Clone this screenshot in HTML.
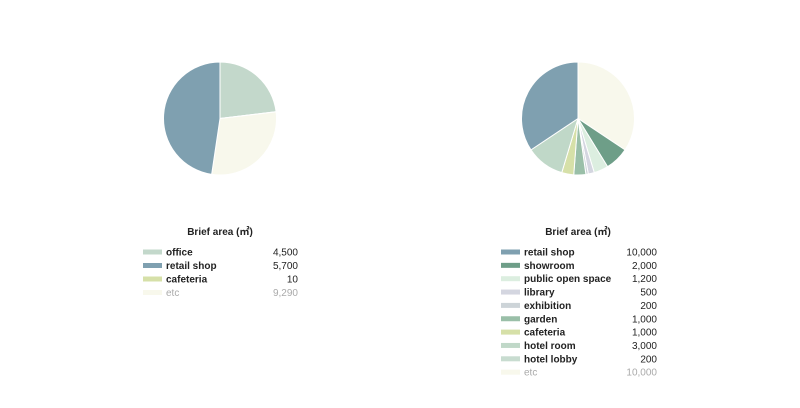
<!DOCTYPE html>
<html><head><meta charset="utf-8"><style>
html,body{margin:0;padding:0;background:#fff;width:800px;height:408px;overflow:hidden}
text{font-family:"Liberation Sans","Noto Sans CJK KR",sans-serif}
</style></head><body>
<svg id="s" width="800" height="408" xmlns="http://www.w3.org/2000/svg">
<g id="p1"></g><g id="p2"></g>
<g font-size="10" fill="#222">
<text x="220" y="235" text-anchor="middle" font-weight="bold">Brief area (㎡)</text>
<text x="578" y="235" text-anchor="middle" font-weight="bold">Brief area (㎡)</text>
</g>
<g id="lg" font-size="10" font-weight="bold"></g>
</svg>
<script>
var NS="http://www.w3.org/2000/svg";
function pie(id,cx,cy,r,data){
 var tot=data.reduce(function(a,d){return a+d[1]},0),a=0,g=document.getElementById(id);
 data.forEach(function(d){
  var a1=a+d[1]/tot*2*Math.PI;
  var x0=cx+r*Math.sin(a),y0=cy-r*Math.cos(a),x1=cx+r*Math.sin(a1),y1=cy-r*Math.cos(a1);
  var p=document.createElementNS(NS,"path");
  p.setAttribute("d","M"+cx+","+cy+"L"+x0+","+y0+"A"+r+","+r+" 0 "+((a1-a)>Math.PI?1:0)+" 1 "+x1+","+y1+"Z");
  p.setAttribute("fill",d[0]);p.setAttribute("stroke","#fff");p.setAttribute("stroke-width","1");
  g.appendChild(p);a=a1;
 });
}
pie("p1",220,118.5,56.5,[["#c3d8cb",4500],["#d6e0a8",10],["#f8f8ec",5700],["#7fa0b0",9290]]);
pie("p2",578,118.5,56.5,[["#f8f8ec",10000],["#6e9e88",2000],["#dceee0",1200],["#d4d6e0",500],["#cdd4d8",200],["#9abfa8",1000],["#d6e0a8",1000],["#c0d8c8",3200],["#7fa0b0",10000]]);
var lg=document.getElementById("lg");
function leg(x,vx,y0,dy,rows){
 rows.forEach(function(r,i){
  var y=y0+i*dy;
  var re=document.createElementNS(NS,"rect");
  re.setAttribute("x",x);re.setAttribute("y",y-6);re.setAttribute("width",19);re.setAttribute("height",5);re.setAttribute("fill",r[0]);lg.appendChild(re);
  var gray=r[1]=="etc";
  var t=document.createElementNS(NS,"text");t.setAttribute("x",x+23);t.setAttribute("y",y);t.textContent=r[1];
  t.setAttribute("fill",gray?"#aaa":"#222");if(gray)t.setAttribute("font-weight","normal");lg.appendChild(t);
  var v=document.createElementNS(NS,"text");v.setAttribute("x",vx);v.setAttribute("y",y);v.setAttribute("text-anchor","end");v.textContent=r[2];
  v.setAttribute("fill",gray?"#aaa":"#222");v.setAttribute("font-weight","normal");lg.appendChild(v);
 });
}
leg(143,298,255.5,13.5,[["#c3d8cb","office","4,500"],["#7fa0b0","retail shop","5,700"],["#d6e0a8","cafeteria","10"],["#f8f8ec","etc","9,290"]]);
leg(501,657,255.5,13.35,[["#7fa0b0","retail shop","10,000"],["#6e9e88","showroom","2,000"],["#dceee0","public open space","1,200"],["#d4d6e0","library","500"],["#cdd4d8","exhibition","200"],["#9abfa8","garden","1,000"],["#d6e0a8","cafeteria","1,000"],["#c0d8c8","hotel room","3,000"],["#c8dcd0","hotel lobby","200"],["#f8f8ec","etc","10,000"]]);
</script>
</body></html>
